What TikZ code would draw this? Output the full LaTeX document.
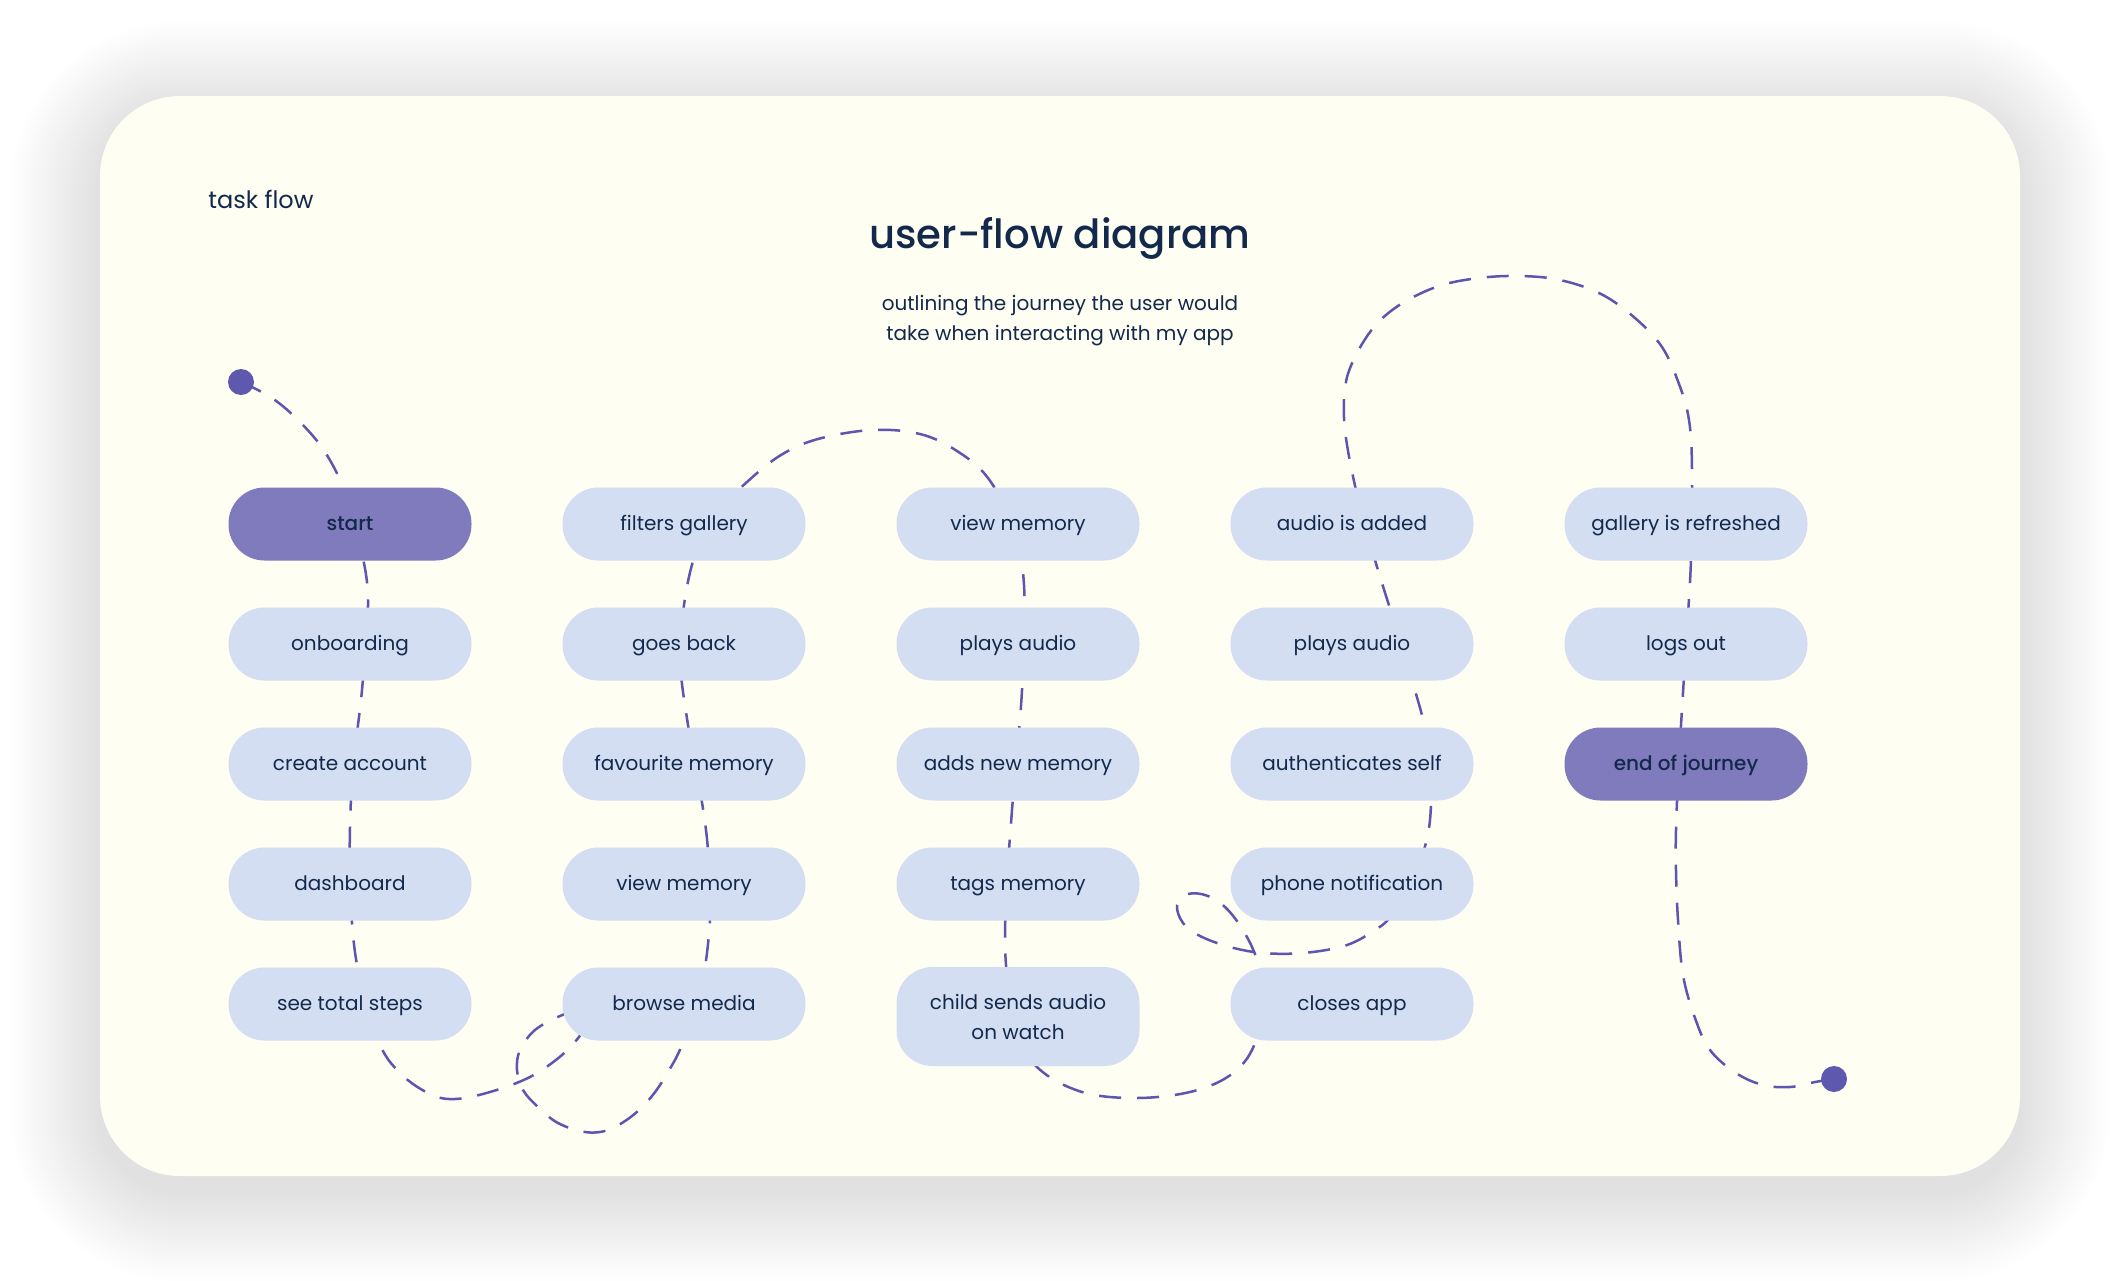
\documentclass[tikz,border=0pt]{standalone}
\usepackage{fontspec}
\setmainfont{Poppins}
\newfontfamily\medfont{Poppins Medium}
\definecolor{cardbg}{HTML}{FEFEF2}
\definecolor{pillbg}{HTML}{D4DEF3}
\definecolor{pilldark}{HTML}{807BBC}
\definecolor{ink}{HTML}{13294B}
\definecolor{flowline}{HTML}{5D55AE}
\definecolor{dotc}{HTML}{5E58AE}
\pgfdeclarelayer{bg}
\pgfdeclarelayer{mid}
\pgfsetlayers{bg,mid,main}
\begin{document}
\begin{tikzpicture}[x=0.5pt,y=-0.5pt,
  pillbase/.style={rectangle, rounded corners=18pt, fill=pillbg, minimum width=121.5pt,
    minimum height=36.5pt, inner sep=0pt, text=ink, font=\fontsize{10pt}{15pt}\selectfont},
  pill/.style={pillbase, text height=8pt, text depth=1.7pt},
  darkpill/.style={pill, fill=pilldark, font=\medfont\fontsize{10pt}{15pt}\selectfont},
  flow/.style={draw=flowline, line width=1.25pt, dash pattern=on 11pt off 8pt},
  enddot/.style={circle, fill=dotc, minimum size=13pt, inner sep=0pt}]
\useasboundingbox (0,0) rectangle (2120,1280);
\begin{pgfonlayer}{bg}
  \fill[white] (0,0) rectangle (2120,1280);
  \foreach \i in {1,...,30}{
    \pgfmathsetmacro\rr{40+\i*1.5}
    \fill[black, opacity=0.0035, rounded corners=\rr pt]
      (100-\i*3, 111-\i*3) rectangle (2020+\i*3, 1191+\i*3);
  }
  \fill[cardbg, rounded corners=40pt] (100,96) rectangle (2020,1176);
\end{pgfonlayer}

% titles
\node[anchor=base west, text=ink, font=\fontsize{12pt}{14pt}\selectfont, inner sep=0pt] (tf) at (208,208) {task flow};
\node[anchor=base, text=ink, font=\medfont\fontsize{20.1pt}{24pt}\selectfont, inner sep=0pt] (title) at (1060,248) {user-flow diagram};
\node[anchor=base, text=ink, font=\fontsize{10pt}{15pt}\selectfont, inner sep=0pt] (sub1) at (1060,310) {outlining the journey the user would};
\node[anchor=base, text=ink, font=\fontsize{10pt}{15pt}\selectfont, inner sep=0pt] (sub2) at (1060,340) {take when interacting with my app};

% column 1
\node[darkpill] (start) at (350,524) {start};
\node[pill] (onb) at (350,644) {onboarding};
\node[pill] (acc) at (350,764) {create account};
\node[pill] (dash) at (350,884) {dashboard};
\node[pill] (steps) at (350,1004) {see total steps};
% column 2
\node[pill] (filt) at (684,524) {filters gallery};
\node[pill] (back) at (684,644) {goes back};
\node[pill] (fav) at (684,764) {favourite memory};
\node[pill] (view2) at (684,884) {view memory};
\node[pill] (browse) at (684,1004) {browse media};
% column 3
\node[pill] (view3) at (1018,524) {view memory};
\node[pill] (play3) at (1018,644) {plays audio};
\node[pill] (adds) at (1018,764) {adds new memory};
\node[pill] (tags) at (1018,884) {tags memory};
\node[pillbase, minimum height=49.5pt, align=center] (child) at (1018,1016.5) {child sends audio\\on watch};
% column 4
\node[pill] (added) at (1352,524) {audio is added};
\node[pill] (play4) at (1352,644) {plays audio};
\node[pill] (auth) at (1352,764) {authenticates self};
\node[pill] (phone) at (1352,884) {phone notification};
\node[pill] (closes) at (1352,1004) {closes app};
% column 5
\node[pill] (refr) at (1686,524) {gallery is refreshed};
\node[pill] (logs) at (1686,644) {logs out};
\node[darkpill] (endj) at (1686,764) {end of journey};

\node[enddot] (dotA) at (241,382) {};
\node[enddot] (dotB) at (1834,1079) {};

\begin{pgfonlayer}{mid}
\draw[flow] plot[smooth, tension=0.6] coordinates {
 (dotA.center) (272,398) (300,422) (325,452) (345,492) (360,545) (368,600) (362,690) (352,780)
 (350,880) (357,965) (378,1040) (400,1073) (430,1094) (455,1099) (490,1092) (530,1077)
 (562,1055) (582,1033) (588,1020) (576,1012) (560,1016) (535,1030) (520,1050) (517,1070)
 (523,1090) (538,1107) (558,1123) (585,1132) (608,1130) (632,1116) (652,1096) (668,1072)
 (682,1045) (700,995) (710,920) (708,850) (700,790) (688,725) (680,660) (684,605) (695,555)
 (715,515) (747,482) (781,455) (818,439) (872,430) (920,434) (957,451) (988,478) (1012,525)
 (1024,585) (1022,690) (1012,810) (1006,900) (1006,965) (1016,1030) (1038,1068) (1082,1092)
 (1136,1098) (1190,1092) (1229,1076) (1252,1050) (1262,1010) (1259,968) (1247,937)
 (1228,910) (1208,896) (1188,894) (1177,905) (1183,923) (1200,936) (1230,947) (1263,953)
 (1303,953) (1344,946) (1372,932) (1392,915) (1415,875) (1430,820) (1428,745) (1412,680)
 (1392,615) (1375,560) (1356,490) (1345,430) (1345,388) (1354,359) (1374,327) (1401,304)
 (1439,286) (1479,278) (1520,276) (1560,280) (1601,294) (1635,318) (1662,347) (1679,384)
 (1689,420) (1692,469) (1691,560) (1685,660) (1679,760) (1676,830) (1676,871) (1678,920)
 (1683,975) (1695,1018) (1710,1050) (1736,1073) (1763,1085) (1790,1087) (1815,1082)
 (dotB.center)};
\end{pgfonlayer}
\end{tikzpicture}
\end{document}
